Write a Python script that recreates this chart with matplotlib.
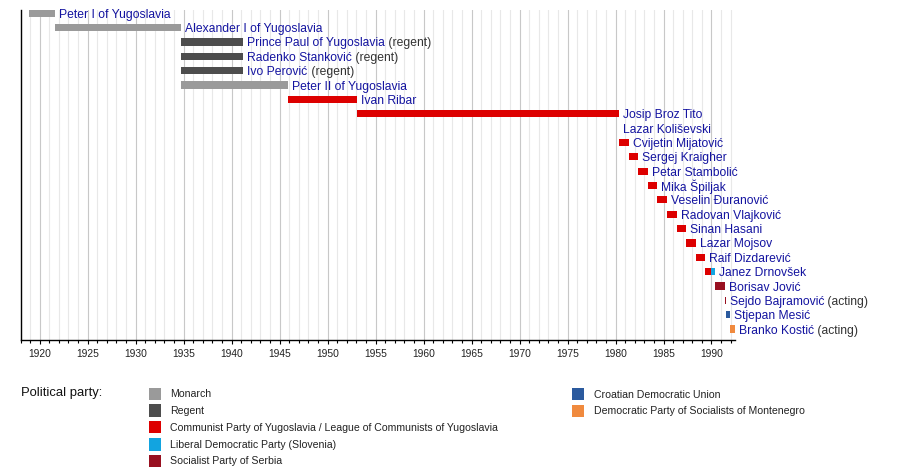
import matplotlib
matplotlib.use('Agg')
import matplotlib.pyplot as plt
from matplotlib.patches import Rectangle
from matplotlib.ticker import MultipleLocator

plt.rcParams['font.family'] = ['Liberation Sans', 'DejaVu Sans']

# ---------------- data ----------------
names = ["Peter I of Yugoslavia", "Alexander I of Yugoslavia", "Prince Paul of Yugoslavia",
         "Radenko Stanković", "Ivo Perović", "Peter II of Yugoslavia", "Ivan Ribar",
         "Josip Broz Tito", "Lazar Koliševski", "Cvijetin Mijatović", "Sergej Kraigher",
         "Petar Stambolić", "Mika Špiljak", "Veselin Đuranović", "Radovan Vlajković",
         "Sinan Hasani", "Lazar Mojsov", "Raif Dizdarević", "Janez Drnovšek",
         "Borisav Jović", "Sejdo Bajramović", "Stjepan Mesić", "Branko Kostić"]
suffixes = ["", "", " (regent)", " (regent)", " (regent)", "", "", "", "", "", "", "",
            "", "", "", "", "", "", "", "", " (acting)", "", " (acting)"]

seg_row = [0, 1, 2, 3, 4, 5, 6, 7, 8, 9, 10, 11, 12, 13, 14, 15, 16, 17, 18, 18, 19, 20, 21, 22]
seg_start = [1918.92, 1921.62, 1934.77, 1934.77, 1934.77, 1934.77, 1945.91, 1953.04,
             1980.34, 1980.37, 1981.37, 1982.37, 1983.37, 1984.37, 1985.37, 1986.37,
             1987.37, 1988.37, 1989.37, 1990.00, 1990.37, 1991.37, 1991.50, 1991.93]
seg_end = [1921.62, 1934.77, 1941.23, 1941.23, 1941.23, 1945.91, 1953.04, 1980.34,
           1980.37, 1981.37, 1982.37, 1983.37, 1984.37, 1985.37, 1986.37, 1987.37,
           1988.37, 1989.37, 1990.00, 1990.37, 1991.37, 1991.50, 1991.93, 1992.45]
seg_party = ["Monarch", "Monarch", "Regent", "Regent", "Regent", "Monarch", "LCY", "LCY",
             "LCY", "LCY", "LCY", "LCY", "LCY", "LCY", "LCY", "LCY", "LCY", "LCY",
             "LCY", "LDS", "SPS", "SPS", "HDZ", "DPS"]

party_keys = ["Monarch", "Regent", "LCY", "LDS", "SPS", "HDZ", "DPS"]
party_labels = ["Monarch", "Regent",
                "Communist Party of Yugoslavia / League of Communists of Yugoslavia",
                "Liberal Democratic Party (Slovenia)", "Socialist Party of Serbia",
                "Croatian Democratic Union", "Democratic Party of Socialists of Montenegro"]
party_colors = ["#9a9a9a", "#4d4d4d", "#dd0000", "#12a4e0", "#981020", "#2b5a9e", "#f08a3e"]
color_of = dict(zip(party_keys, party_colors))

x_min, x_max = 1918.0, 1992.45

# ---------------- figure ----------------
W, H = 900, 470
fig = plt.figure(figsize=(W / 100, H / 100), dpi=100)
ax = fig.add_axes([20.5 / W, 1 - 340 / H, (735 - 20.5) / W, (340 - 9.5) / H])

ax.set_xlim(x_min, x_max)
ax.set_ylim(22.76, -0.26)

ax.xaxis.set_major_locator(MultipleLocator(5))
ax.xaxis.set_minor_locator(MultipleLocator(1))
ax.grid(which='minor', axis='x', color='#e8e8e8', linewidth=0.8)
ax.grid(which='major', axis='x', color='#c8c8c8', linewidth=0.8)
ax.set_axisbelow(True)
ax.set_yticks([])
for s in ['top', 'right']:
    ax.spines[s].set_visible(False)
ax.spines['left'].set_color('black')
ax.spines['bottom'].set_color('black')
ax.spines['left'].set_linewidth(1.0)
ax.spines['bottom'].set_linewidth(1.0)
ax.tick_params(axis='x', which='major', length=3.2, width=0.8, color='black',
               labelsize=7.4, labelcolor='#222222', pad=3.5)
ax.tick_params(axis='x', which='minor', length=1.8, width=0.8, color='black')

bar_h = 0.5
for r, s, e, p in zip(seg_row, seg_start, seg_end, seg_party):
    ax.barh(r, e - s, left=s, height=bar_h, color=color_of[p], linewidth=0)

# label positions: end of last segment in each row
row_end = {}
for r, e in zip(seg_row, seg_end):
    row_end[r] = max(row_end.get(r, 0), e)

name_texts = []
for i, nm in enumerate(names):
    t = ax.annotate(nm, xy=(row_end[i], i), xytext=(2.9, 0), textcoords='offset points',
                    ha='left', va='center_baseline', fontsize=8.7, color='#1414a0')
    name_texts.append(t)

fig.canvas.draw()
renderer = fig.canvas.get_renderer()
inv = ax.transData.inverted()
for i, (t, suf) in enumerate(zip(name_texts, suffixes)):
    if suf:
        bb = t.get_window_extent(renderer)
        xd = inv.transform((bb.x1, 0))[0]
        ax.text(xd, i, suf, ha='left', va='center_baseline', fontsize=8.7, color='#333333')

# ---------------- legend ----------------
fig.text(21 / W, 1 - 393 / H, "Political party:", fontsize=9.4, color='#111111',
         ha='left', va='center')
legend_pos = [(148.5, 393.7), (148.5, 410.5), (148.5, 427.2), (148.5, 444.3), (148.5, 461.0),
              (571.5, 394.0), (571.5, 411.0)]
sw = 12.4
for (px, py), lab, col in zip(legend_pos, party_labels, party_colors):
    fig.add_artist(Rectangle((px / W, 1 - (py + sw / 2) / H), sw / W, sw / H,
                             transform=fig.transFigure, color=col, linewidth=0))
    fig.text((px + 22) / W, 1 - (py + 0.5) / H, lab, fontsize=7.6, color='#222222',
             ha='left', va='center')

fig.savefig('out.png', dpi=100)
